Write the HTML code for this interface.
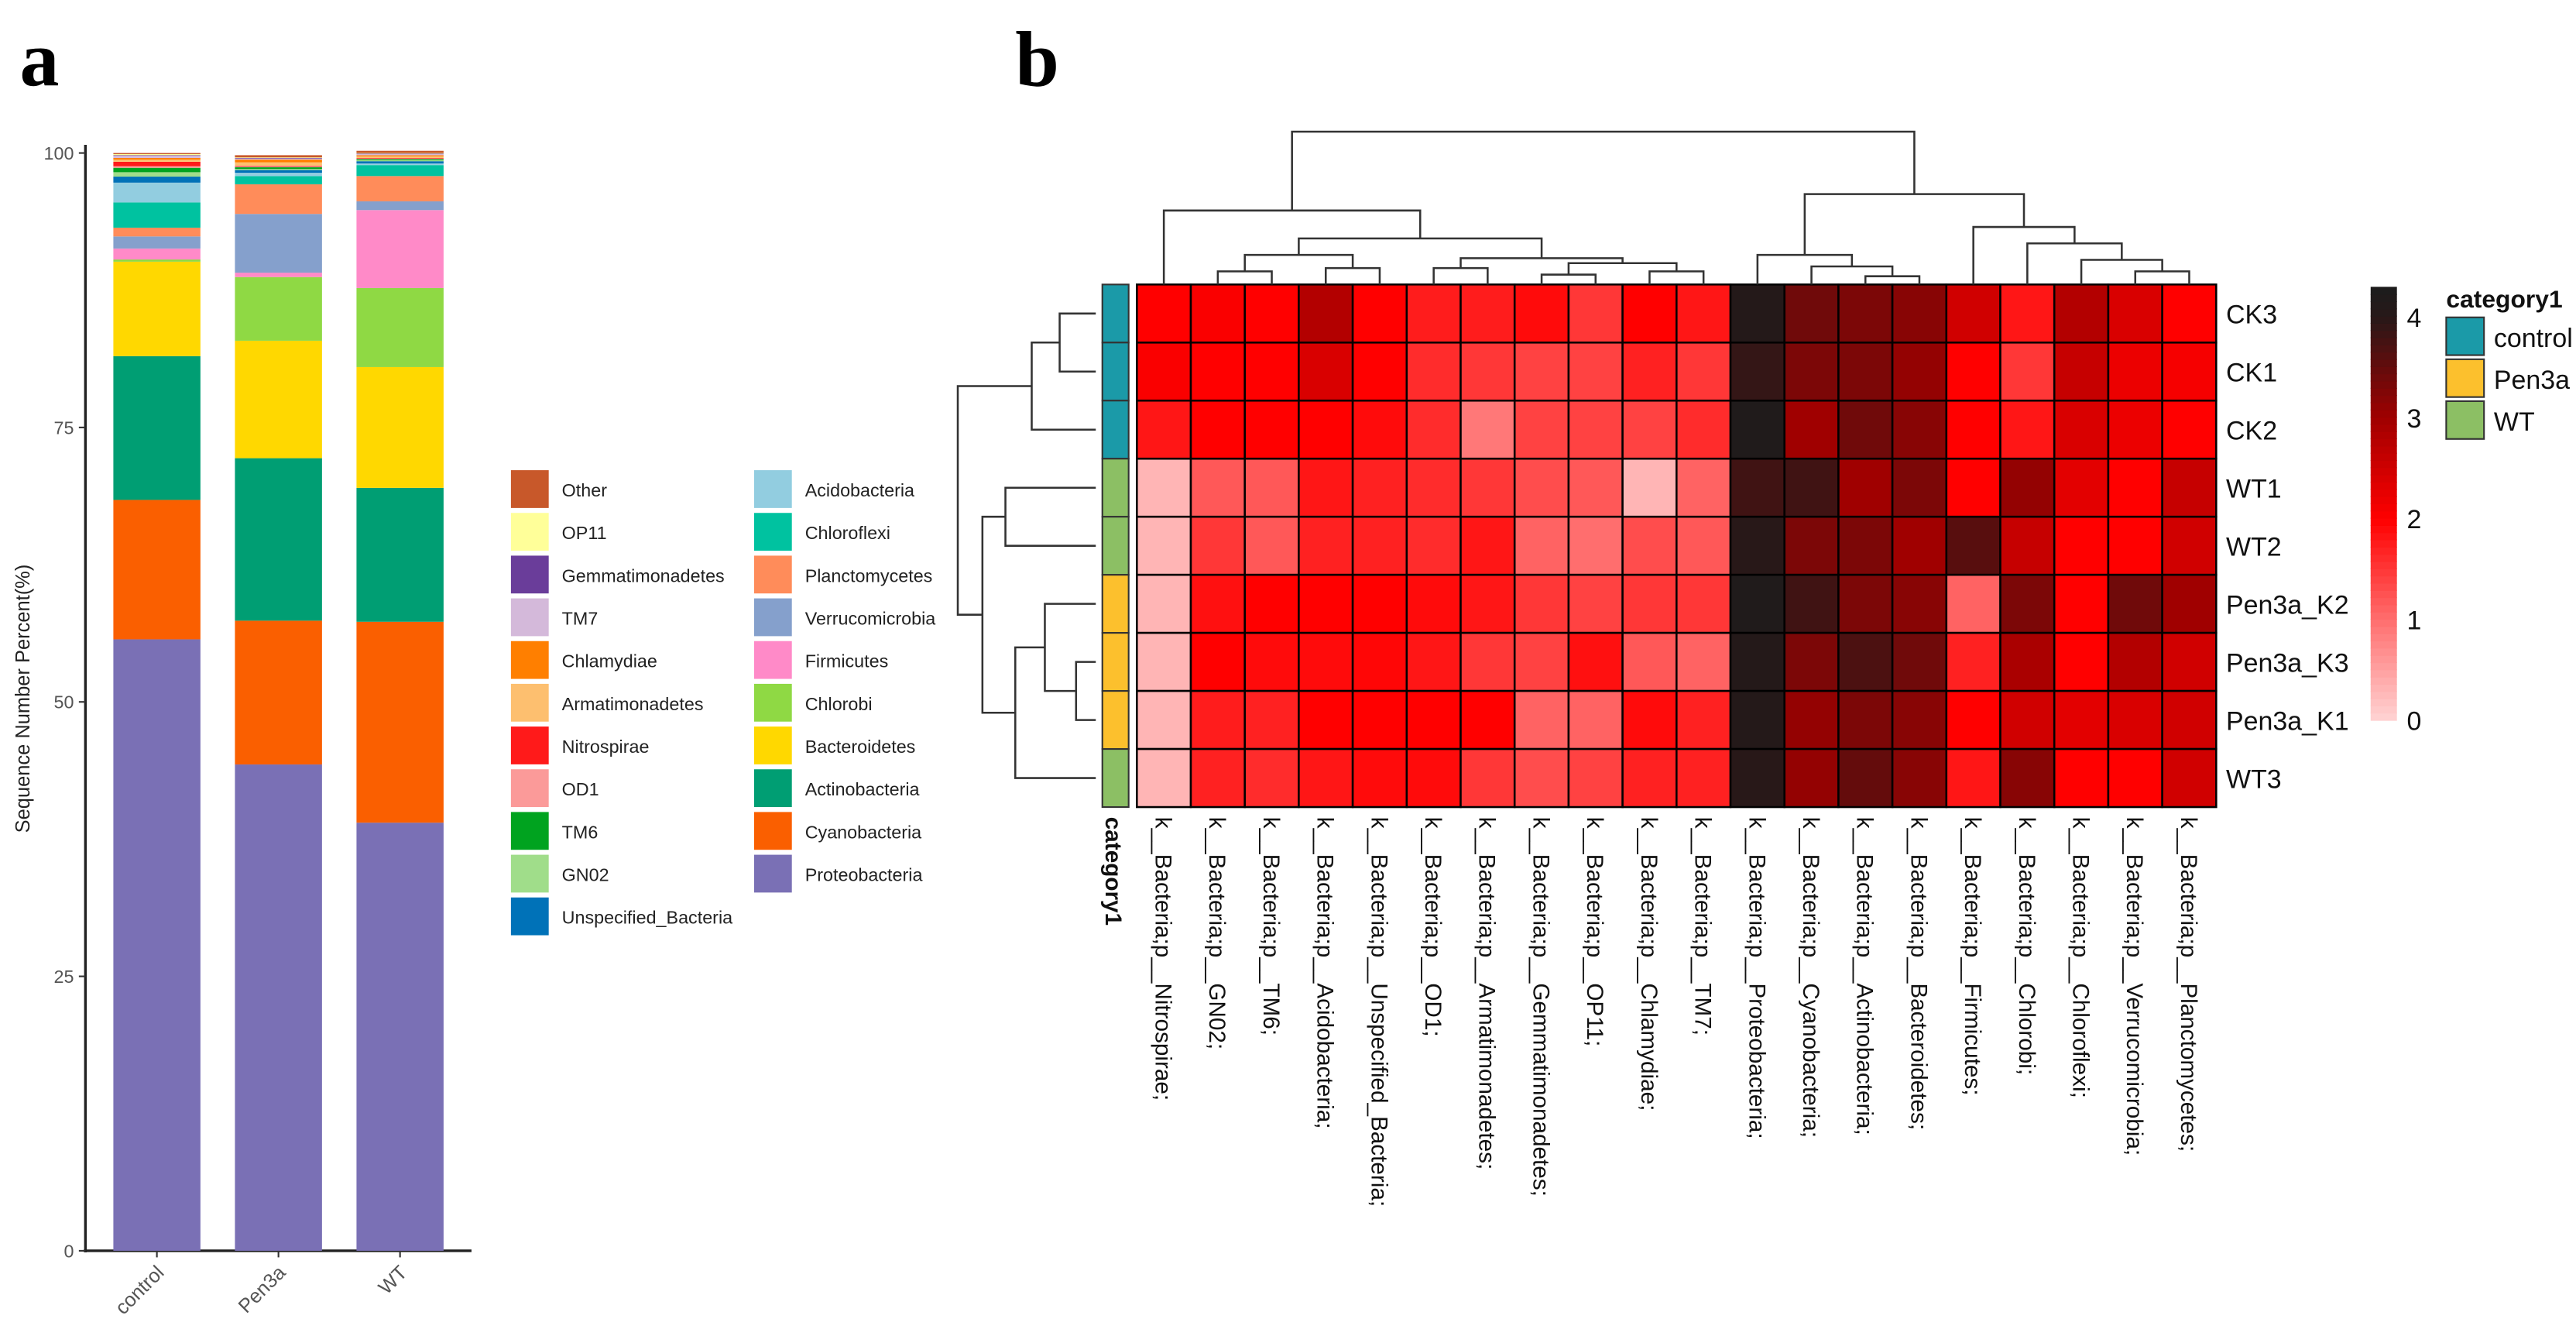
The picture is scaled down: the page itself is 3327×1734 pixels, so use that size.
<!DOCTYPE html>
<html><head><meta charset="utf-8"><style>
html,body{margin:0;padding:0;background:#fff;}
svg{display:block;font-family:"Liberation Sans",sans-serif;}
</style></head><body>
<svg id="fig" width="3327" height="1734" viewBox="0 0 1568 817" xmlns="http://www.w3.org/2000/svg">
<text x="12" y="52" font-family="Liberation Serif" font-weight="bold" font-size="48">a</text>
<text x="618" y="52" font-family="Liberation Serif" font-weight="bold" font-size="48">b</text>
<g id="bars"></g>
<g id="legendA"></g>
<g id="heat"></g>
</svg>
<script>
const NS="http://www.w3.org/2000/svg";
function mk(p,t,a){const e=document.createElementNS(NS,t);for(const k in a)e.setAttribute(k,a[k]);p.appendChild(e);return e;}

// ---------- Panel a data ----------
const groups=["control","Pen3a","WT"];
const phyla=["Proteobacteria","Cyanobacteria","Actinobacteria","Bacteroidetes","Chlorobi","Firmicutes","Verrucomicrobia","Planctomycetes","Chloroflexi","Acidobacteria","Unspecified_Bacteria","GN02","TM6","OD1","Nitrospirae","Armatimonadetes","Chlamydiae","TM7","Gemmatimonadetes","OP11","Other"];
const phylaColors=["#7a70b5","#fa5f00","#009e73","#ffd800","#8fd944","#ff8ac8","#85a0cc","#ff8c5a","#00c2a0","#92cde0","#0072b8","#a0dd8a","#00a31f","#fb9a99","#ff1a1a","#fdbf6f","#ff7f00","#d4b9da","#6a3d9a","#ffff99","#c8582a"];
const controlVals=[55.7,12.7,13.1,8.6,0.2,1.0,1.1,0.8,2.3,1.8,0.55,0.4,0.4,0.15,0.4,0.2,0.15,0.2,0.05,0.1,0.1];
const pen3aVals=[44.3,13.1,14.8,10.7,5.8,0.4,5.35,2.7,0.75,0.3,0.25,0.1,0.15,0.1,0.05,0.3,0.25,0.1,0.05,0.05,0.2];
const wtVals=[39.0,18.3,12.2,11.0,7.2,7.1,0.8,2.3,1.0,0.15,0.2,0.1,0.1,0.05,0.05,0.15,0.1,0.1,0.05,0.05,0.2];
const yTicks=[0,25,50,75,100];
const legendOrder1=["Other","OP11","Gemmatimonadetes","TM7","Chlamydiae","Armatimonadetes","Nitrospirae","OD1","TM6","GN02","Unspecified_Bacteria"];
const legendOrder2=["Acidobacteria","Chloroflexi","Planctomycetes","Verrucomicrobia","Firmicutes","Chlorobi","Bacteroidetes","Actinobacteria","Cyanobacteria","Proteobacteria"];

// ---------- Panel b data ----------
const rowsB=["CK3","CK1","CK2","WT1","WT2","Pen3a_K2","Pen3a_K3","Pen3a_K1","WT3"];
const rowCats=["control","control","control","WT","WT","Pen3a","Pen3a","Pen3a","WT"];
const colsB=["Nitrospirae","GN02","TM6","Acidobacteria","Unspecified_Bacteria","OD1","Armatimonadetes","Gemmatimonadetes","OP11","Chlamydiae","TM7","Proteobacteria","Cyanobacteria","Actinobacteria","Bacteroidetes","Firmicutes","Chlorobi","Chloroflexi","Verrucomicrobia","Planctomycetes"];
const hCK3=[2.0,2.05,2.0,2.8,2.0,1.75,1.75,1.9,1.5,2.0,1.8,4.1,3.4,3.3,3.2,2.5,1.8,2.8,2.4,2.0];
const hCK1=[2.05,2.0,2.0,2.4,2.0,1.6,1.5,1.4,1.4,1.7,1.5,3.9,3.3,3.3,3.1,2.0,1.5,2.6,2.2,2.1];
const hCK2=[1.8,2.0,2.0,2.0,1.9,1.6,0.9,1.4,1.4,1.4,1.6,4.2,3.0,3.4,3.2,2.0,1.8,2.4,2.2,2.0];
const hWT1=[0.3,1.2,1.2,1.8,1.7,1.6,1.5,1.3,1.2,0.3,1.1,3.8,3.8,3.0,3.3,2.0,3.1,2.3,2.0,2.6];
const hWT2=[0.3,1.5,1.2,1.7,1.7,1.6,1.8,1.1,1.0,1.3,1.2,4.0,3.3,3.3,3.0,3.6,2.6,2.0,2.0,2.5];
const hK2=[0.3,1.85,2.0,2.0,2.0,1.9,1.8,1.5,1.4,1.5,1.5,4.2,3.8,3.3,3.2,1.1,3.3,2.0,3.4,3.0];
const hK3=[0.3,2.0,1.9,1.9,1.95,1.8,1.5,1.4,1.85,1.2,1.1,4.1,3.3,3.7,3.4,1.7,2.9,2.0,2.8,2.5];
const hK1=[0.3,1.75,1.7,2.0,2.0,2.0,2.0,1.1,1.1,1.9,1.7,4.1,3.1,3.3,3.2,2.0,2.5,2.3,2.4,2.5];
const hWT3=[0.3,1.7,1.6,1.8,1.9,1.9,1.5,1.3,1.4,1.7,1.7,4.0,3.1,3.5,3.2,1.8,3.2,2.0,2.0,2.5];
const colorTicks=[0,1,2,3,4];
const catNames=["control","Pen3a","WT"];
const catColors=["#1b9aa8","#fcc02d","#8cbf64"];

// ---------- Panel a drawing ----------
const bars=document.getElementById('bars');
const y0=761,y100=93;
function yA(v){return y0+(y100-y0)*v/100;}
const barX=[69,143,217],barW=53;
const allVals=[controlVals,pen3aVals,wtVals];
mk(bars,'line',{x1:52,y1:88,x2:52,y2:762,stroke:'#222','stroke-width':1.6});
mk(bars,'line',{x1:51,y1:761,x2:287,y2:761,stroke:'#222','stroke-width':1.6});
yTicks.forEach(function(t){
  mk(bars,'line',{x1:48,x2:52,y1:yA(t),y2:yA(t),stroke:'#333'});
  const tx=mk(bars,'text',{x:45,y:yA(t)+4,'text-anchor':'end','font-size':11,fill:'#555'});
  tx.textContent=t;
  
  
});
const yt=mk(bars,'text',{x:0,y:0,transform:'translate(18,425) rotate(-90)','text-anchor':'middle','font-size':12,fill:'#222'});
yt.textContent="Sequence Number Percent(%)";


groups.forEach(function(g,gi){
  let cum=0;
  allVals[gi].forEach(function(v,pi){
    const r=mk(bars,'rect',{x:barX[gi],width:barW,y:yA(cum+v),height:Math.max(0,yA(cum)-yA(cum+v)),fill:phylaColors[pi]});
    
    
    cum+=v;
  });
  const cx=barX[gi]+barW/2;
  mk(bars,'line',{x1:cx,x2:cx,y1:761,y2:765,stroke:'#333'});
  const xl=mk(bars,'text',{x:0,y:0,transform:'translate('+(cx+5)+',775) rotate(-45)','text-anchor':'end','font-size':12,fill:'#555'});
  xl.textContent=g;
  
  
});
const lg=document.getElementById('legendA');
function legendCol(list,bx){
  list.forEach(function(n,i){
    const yy=286+i*26;
    const r=mk(lg,'rect',{x:bx,y:yy,width:23,height:23,fill:phylaColors[phyla.indexOf(n)]});
    
    
    const t=mk(lg,'text',{x:bx+31,y:yy+16,'font-size':11,fill:'#222'});
    t.textContent=n;
    
    
  });
}
legendCol(legendOrder1,311);legendCol(legendOrder2,459);

// ---------- Panel b drawing ----------
const heat=document.getElementById('heat');
const hx0=692,hx1=1349,hy0=173,hy1=491;
const cw=(hx1-hx0)/colsB.length,ch=(hy1-hy0)/rowsB.length;
const hm=[hCK3,hCK1,hCK2,hWT1,hWT2,hK2,hK3,hK1,hWT3];
const stops=[[0,[255,212,212]],[1,[255,110,110]],[2,[255,0,0]],[3,[160,0,0]],[4,[40,24,24]],[4.3,[28,28,28]]];
function heatColor(v){
  for(let i=0;i<stops.length-1;i++){
    const a=stops[i][0],ca=stops[i][1],b=stops[i+1][0],cb=stops[i+1][1];
    if(v<=b||i==stops.length-2){
      const t=Math.max(0,Math.min(1,(v-a)/(b-a)));
      return 'rgb('+ca.map(function(c,k){return Math.round(c+(cb[k]-c)*t);}).join(',')+')';
    }
  }
}
hm.forEach(function(row,ri){row.forEach(function(v,ci){
  const r=mk(heat,'rect',{x:hx0+ci*cw,y:hy0+ri*ch,width:cw,height:ch,fill:heatColor(v),stroke:'#000','stroke-width':1.2});
  
  
});});
rowsB.forEach(function(n,ri){
  const cy=hy0+(ri+0.5)*ch;
  const c=mk(heat,'rect',{x:671,y:hy0+ri*ch,width:16,height:ch,fill:catColors[catNames.indexOf(rowCats[ri])],stroke:'#333','stroke-width':1});
  
  
  const t=mk(heat,'text',{x:1355,y:cy+6,'font-size':16,fill:'#111'});
  t.textContent=n;
  
  
});
const ct=mk(heat,'text',{x:0,y:0,transform:'translate(673,497) rotate(90)','font-size':14,'font-weight':'bold',fill:'#111'});
ct.textContent="category1";


colsB.forEach(function(n,ci){
  const cx=hx0+(ci+0.5)*cw;
  const t=mk(heat,'text',{x:0,y:0,transform:'translate('+(cx-5)+',497) rotate(90)','font-size':14,fill:'#111'});
  t.textContent="k__Bacteria;p__"+n+";";
  
  
});
// column dendrogram nodes: [left,right,y]
const G1=[[1,2,165],[3,4,163],155];
const G2=[[5,6,163],[[7,8,167],[9,10,165],160],157];
const LT=[0,[G1,G2,145],128];
const R1=[11,[12,[13,14,168],162],155];
const R2=[15,[16,[17,[18,19,165],158],148],138];
const colTree=[LT,[R1,R2,118],80];
function drawCol(n){
  if(typeof n==='number')return{x:hx0+(n+0.5)*cw,y:hy0};
  const a=drawCol(n[0]),b=drawCol(n[1]),y=n[2];
  const p=mk(heat,'path',{d:'M'+a.x+','+a.y+'V'+y+'H'+b.x+'V'+b.y,fill:'none',stroke:'#333','stroke-width':1.2});
  
  
  return{x:(a.x+b.x)/2,y:y};
}
drawCol(colTree);
const RA=[[0,1,645],2,628];
const RB=[[3,4,612],[[5,[6,7,655],636],8,618],598];
const rowTree=[RA,RB,583];
function drawRow(n){
  if(typeof n==='number')return{y:hy0+(n+0.5)*ch,x:667};
  const a=drawRow(n[0]),b=drawRow(n[1]),x=n[2];
  const p=mk(heat,'path',{d:'M'+a.x+','+a.y+'H'+x+'V'+b.y+'H'+b.x,fill:'none',stroke:'#333','stroke-width':1.2});
  
  
  return{x:x,y:(a.y+b.y)/2};
}
drawRow(rowTree);
// colour bar
function yC(v){return 438-v*61.3;}
for(let i=0;i<60;i++){
  const v=4.3*i/60,v2=4.3*(i+1)/60;
  mk(heat,'rect',{x:1443,y:yC(v2),width:16,height:yC(v)-yC(v2)+0.5,fill:heatColor((v+v2)/2)});
}
colorTicks.forEach(function(t){
  const tx=mk(heat,'text',{x:1465,y:yC(t)+6,'font-size':16,fill:'#111'});
  tx.textContent=t;
  
  
});
const lt=mk(heat,'text',{x:1489,y:187,'font-size':15,'font-weight':'bold',fill:'#111'});
lt.textContent="category1";


catNames.forEach(function(n,i){
  const r=mk(heat,'rect',{x:1489,y:193+i*25.5,width:23,height:23,fill:catColors[i],stroke:'#333'});
  
  
  const t=mk(heat,'text',{x:1518,y:211+i*25.5,'font-size':16,fill:'#111'});
  t.textContent=n;
  
  
});
</script>
</body></html>
